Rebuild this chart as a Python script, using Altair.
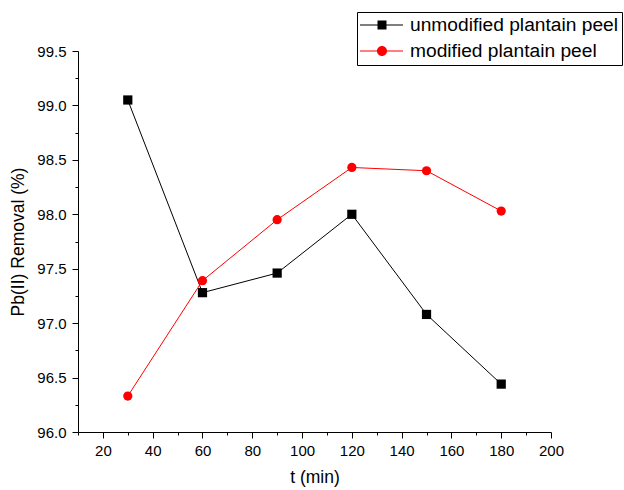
import altair as alt
import pandas as pd

# Data
times = [30, 60, 90, 120, 150, 180]
unmodified = [99.05, 97.28, 97.46, 98.00, 97.08, 96.44]
modified = [96.33, 97.39, 97.95, 98.43, 98.40, 98.03]
series_names = ["unmodified plantain peel", "modified plantain peel"]
series_colors = ["#000000", "#FF0000"]

x_ticks = list(range(10, 201, 10))
y_ticks = [96 + 0.25 * i for i in range(15)]

df = pd.DataFrame(
    {
        "t": times * 2,
        "removal": unmodified + modified,
        "series": [series_names[0]] * len(times) + [series_names[1]] * len(times),
    }
)

FONT = "Liberation Sans"

x_enc = alt.X(
    "t:Q",
    scale=alt.Scale(domain=[10, 200], nice=False, zero=False),
    axis=alt.Axis(
        title="t (min)",
        values=x_ticks,
        labelExpr="datum.value % 20 === 0 ? datum.label : ''",
        tickSize={"condition": {"test": "datum.value % 20 === 0", "value": 6}, "value": 3},
        grid=False,
        domainColor="black",
        tickColor="black",
        labelColor="black",
        titleColor="black",
        labelFont=FONT,
        titleFont=FONT,
        labelFontSize=15,
        titleFontSize=17.5,
        titleFontWeight="normal",
        labelPadding=5,
        titlePadding=10,
        labelOverlap=False,
        labelFlush=False,
    ),
)
y_enc = alt.Y(
    "removal:Q",
    scale=alt.Scale(domain=[96, 99.5], nice=False, zero=False),
    axis=alt.Axis(
        title="Pb(II) Removal (%)",
        values=y_ticks,
        format=".1f",
        labelExpr="(datum.value * 2) % 1 === 0 ? datum.label : ''",
        tickSize={"condition": {"test": "(datum.value * 2) % 1 === 0", "value": 6}, "value": 3},
        grid=False,
        domainColor="black",
        tickColor="black",
        labelColor="black",
        titleColor="black",
        labelFont=FONT,
        titleFont=FONT,
        labelFontSize=15,
        titleFontSize=17.5,
        titleFontWeight="normal",
        labelPadding=6,
        titlePadding=9,
        labelOverlap=False,
        labelFlush=False,
    ),
)

base = alt.Chart(df)
black_data = base.transform_filter(alt.datum.series == series_names[0])
red_data = base.transform_filter(alt.datum.series == series_names[1])

black_line = black_data.mark_line(strokeWidth=1, color=series_colors[0]).encode(x=x_enc, y=y_enc)
black_pts = black_data.mark_square(size=85, opacity=1, color=series_colors[0]).encode(x=x_enc, y=y_enc)
red_line = red_data.mark_line(strokeWidth=1, color=series_colors[1]).encode(x=x_enc, y=y_enc)
red_pts = red_data.mark_circle(size=85, opacity=1, color=series_colors[1]).encode(x=x_enc, y=y_enc)

# legend symbols: a short line with the marker on it
sq_path = "M-1,-0.05H3.3V0.05H-1Z M0.75,-0.45H1.65V0.45H0.75Z"
ci_path = "M-1,-0.05H3.3V0.05H-1Z M1.7,0A0.5,0.5 0 1,1 0.7,0A0.5,0.5 0 1,1 1.7,0Z"

legend_props = dict(
    title=None,
    orient="none",
    legendX=279,
    legendY=-39,
    padding=3,
    symbolSize=400,
    symbolOpacity=1,
    symbolStrokeWidth=0,
    labelOffset=30,
    labelFont=FONT,
    labelFontSize=19.2,
    labelColor="black",
    labelLimit=400,
    labelExpr="datum.label + '   '",
    rowPadding=5,
    strokeColor="black",
    fillColor="white",
    cornerRadius=0,
)

legend_layer = base.mark_point(filled=True, opacity=0, size=400).encode(
    x=x_enc,
    y=y_enc,
    color=alt.Color(
        "series:N",
        scale=alt.Scale(domain=series_names, range=series_colors),
        legend=alt.Legend(**legend_props),
    ),
    shape=alt.Shape(
        "series:N",
        scale=alt.Scale(domain=series_names, range=[sq_path, ci_path]),
        legend=alt.Legend(**legend_props),
    ),
)

chart = (
    alt.layer(black_line, black_pts, red_line, red_pts, legend_layer)
    .properties(
        width=473,
        height=381,
        autosize=alt.AutoSizeParams(type="none"),
        padding={"left": 78, "top": 51, "right": 73, "bottom": 58},
        background="white",
    )
    .configure_view(stroke=None)
)

chart.save("out.html", embed_options={"renderer": "svg", "actions": False})
